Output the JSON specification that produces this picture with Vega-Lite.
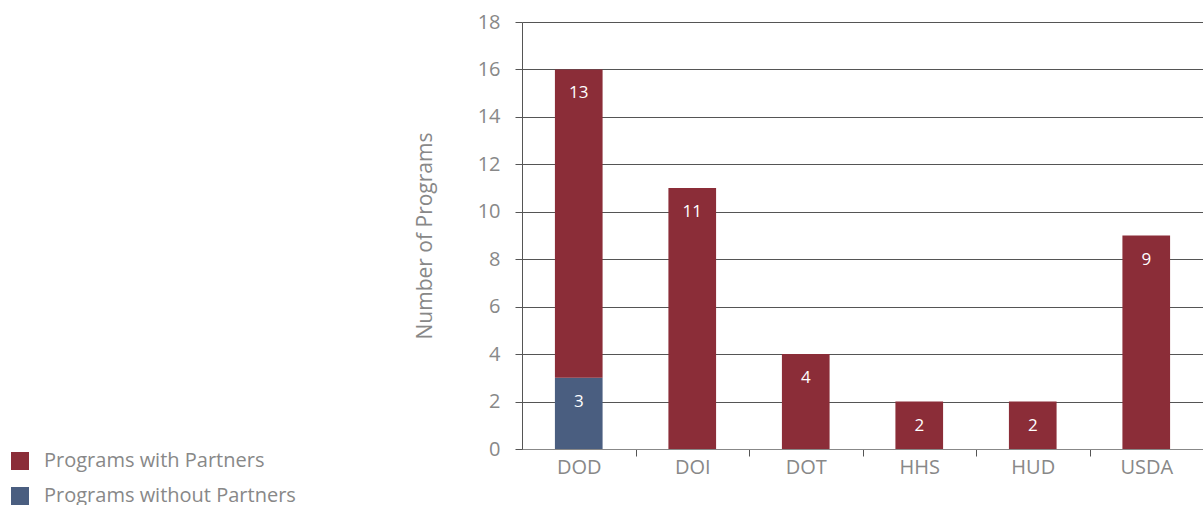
{
  "$schema": "https://vega.github.io/schema/vega-lite/v6.json",
  "autosize": {"type": "none"},
  "padding": {"left": 522, "top": 22, "right": 0, "bottom": 56},
  "width": 681,
  "height": 427,
  "background": "white",
  "config": {
    "font": "Open Sans",
    "view": {"stroke": null}
  },
  "data": {
    "values": [
      {"agency": "DOD", "status": "Programs without Partners", "count": 3},
      {"agency": "DOD", "status": "Programs with Partners", "count": 13},
      {"agency": "DOI", "status": "Programs with Partners", "count": 11},
      {"agency": "DOT", "status": "Programs with Partners", "count": 4},
      {"agency": "HHS", "status": "Programs with Partners", "count": 2},
      {"agency": "HUD", "status": "Programs with Partners", "count": 2},
      {"agency": "USDA", "status": "Programs with Partners", "count": 9}
    ]
  },
  "encoding": {
    "x": {
      "field": "agency",
      "type": "nominal",
      "sort": null,
      "scale": {"paddingInner": 0.58, "paddingOuter": 0.29},
      "axis": {
        "title": null,
        "labelAngle": 0,
        "labelFont": "Open Sans",
        "labelFontSize": 20,
        "labelColor": "#888888",
        "labelPadding": 1,
        "tickBand": "center",
        "tickOffset": 56.75,
        "labelOffset": -56.75,
        "tickSize": 7,
        "tickColor": "#555555",
        "domainColor": "#888888",
        "grid": false
      }
    },
    "y": {
      "field": "count",
      "type": "quantitative",
      "stack": "zero",
      "scale": {"domain": [0, 18], "nice": false},
      "axis": {
        "title": "Number of Programs",
        "titleFont": "Open Sans",
        "titleFontSize": 21,
        "titleFontWeight": "normal",
        "titleColor": "#888888",
        "titlePadding": 42,
        "values": [0, 2, 4, 6, 8, 10, 12, 14, 16, 18],
        "labelFont": "Open Sans",
        "labelFontSize": 20,
        "labelColor": "#888888",
        "labelPadding": 15,
        "tickSize": 7,
        "tickColor": "#555555",
        "domainColor": "#555555",
        "gridColor": "#555555",
        "gridWidth": 1,
        "grid": true
      }
    },
    "order": {"field": "status", "sort": "descending"}
  },
  "layer": [
    {
      "mark": {"type": "bar"},
      "encoding": {
        "color": {
          "field": "status",
          "type": "nominal",
          "scale": {
            "domain": ["Programs with Partners", "Programs without Partners"],
            "range": ["#8b2d38", "#4a5e80"]
          },
          "legend": {
            "title": null,
            "orient": "none",
            "legendX": -512,
            "legendY": 429,
            "symbolType": "square",
            "symbolSize": 324,
            "symbolStrokeWidth": 0,
            "labelFont": "Open Sans",
            "labelFontSize": 20,
            "labelColor": "#888888",
            "labelLimit": 0,
            "labelOffset": 14,
            "rowPadding": 15
          }
        }
      }
    },
    {
      "mark": {"type": "text", "color": "white", "fontSize": 17, "font": "Open Sans", "baseline": "middle", "dy": 24},
      "encoding": {
        "text": {"field": "count", "type": "quantitative"}
      }
    }
  ]
}
